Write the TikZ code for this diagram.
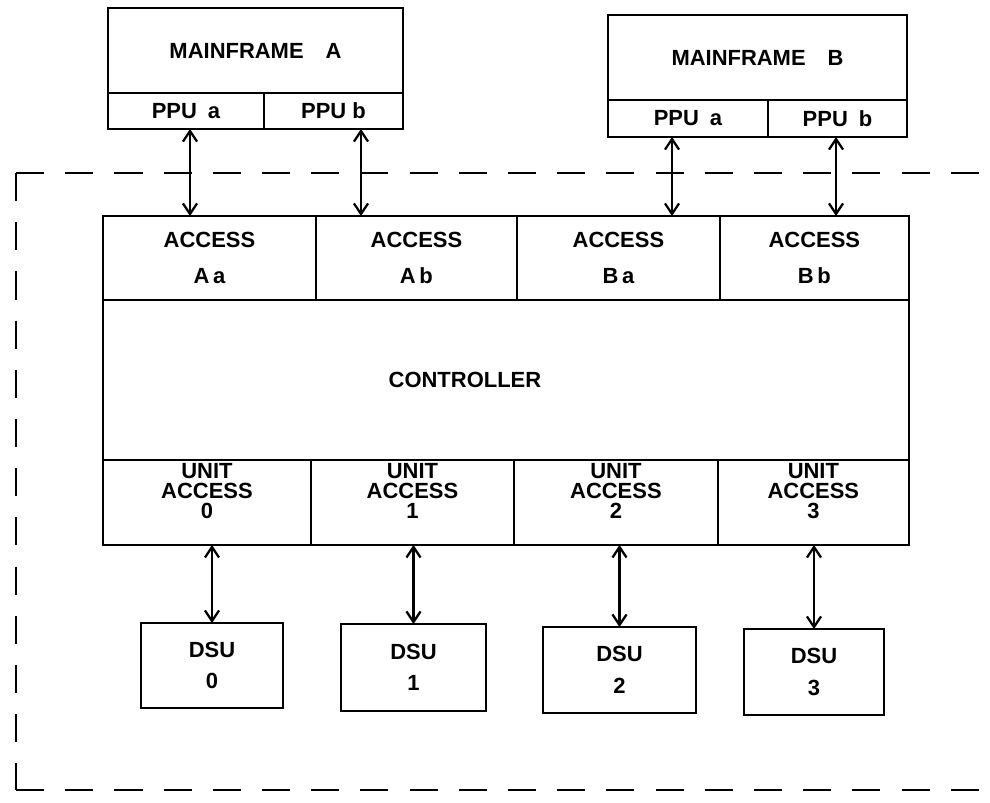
\documentclass[tikz,border=0pt]{standalone}
\usepackage{fontspec}
\setmainfont{Liberation Sans}
\usetikzlibrary{arrows.meta,positioning}

\begin{document}
\begin{tikzpicture}[x=0.02cm, y=-0.02cm,
    box/.style={draw, line width=1.2pt, inner sep=0pt, outer sep=0pt, align=center,
      font=\bfseries\fontsize{12.5}{15}\selectfont},
    accbox/.style={box, minimum height=1.68cm, font=\bfseries\fontsize{12.5}{20}\selectfont},
    unitbox/.style={box, minimum height=1.7cm, text depth=0.46cm, font=\bfseries\fontsize{12.5}{11.5}\selectfont},
    dsubox/.style={box, font=\bfseries\fontsize{12.5}{18}\selectfont},
    link/.style={{Straight Barb[length=6pt,width=8pt]}-{Straight Barb[length=6pt,width=8pt]}, line width=1.3pt},
    frame/.style={line width=1.3pt, dash pattern=on 16pt off 12pt}]
  \useasboundingbox (0,0) rectangle (990,802);

  % mainframes and their PPUs
  \node[box, minimum width=5.9cm, minimum height=1.7cm] (mfA) at (255.5,50.5) {MAINFRAME\quad A};
  \node[box, minimum width=3.12cm, minimum height=0.72cm, anchor=north west] (ppuAa) at (mfA.south west) {PPU\enspace a};
  \node[box, minimum width=2.78cm, minimum height=0.72cm, right=0pt of ppuAa] (ppuAb) {PPU b};

  \node[box, minimum width=5.98cm, minimum height=1.7cm] (mfB) at (757.5,57.5) {MAINFRAME\quad B};
  \node[box, minimum width=3.2cm, minimum height=0.74cm, anchor=north west] (ppuBa) at (mfB.south west) {PPU\enspace a};
  \node[box, minimum width=2.78cm, minimum height=0.74cm, right=0pt of ppuBa] (ppuBb) {PPU\enspace b};

  % access row
  \node[accbox, minimum width=4.26cm, anchor=north west] (accAa) at (103,216) {ACCESS\\A\,a};
  \node[accbox, minimum width=4.02cm, right=0pt of accAa] (accAb) {ACCESS\\A\,b};
  \node[accbox, minimum width=4.06cm, right=0pt of accAb] (accBa) {ACCESS\\B\,a};
  \node[accbox, minimum width=3.78cm, right=0pt of accBa] (accBb) {ACCESS\\B\,b};

  % controller
  \node[box, minimum width=16.12cm, minimum height=3.2cm, anchor=north west,
    label={[xshift=-0.82cm, font=\bfseries\fontsize{12.5}{15}\selectfont]center:CONTROLLER}] (ctrl) at (accAa.south west) {};

  % unit access row
  \node[unitbox, minimum width=4.16cm, anchor=north west] (unit0) at (ctrl.south west) {UNIT\\ACCESS\\0};
  \node[unitbox, minimum width=4.06cm, right=0pt of unit0] (unit1) {UNIT\\ACCESS\\1};
  \node[unitbox, minimum width=4.08cm, right=0pt of unit1] (unit2) {UNIT\\ACCESS\\2};
  \node[unitbox, minimum width=3.82cm, right=0pt of unit2] (unit3) {UNIT\\ACCESS\\3};

  % storage units
  \node[dsubox, minimum width=2.84cm, minimum height=1.7cm] (dsu0) at (212,665.5) {DSU\\0};
  \node[dsubox, minimum width=2.9cm, minimum height=1.74cm] (dsu1) at (413.5,667.5) {DSU\\1};
  \node[dsubox, minimum width=3.06cm, minimum height=1.72cm] (dsu2) at (619.5,670) {DSU\\2};
  \node[dsubox, minimum width=2.8cm, minimum height=1.72cm] (dsu3) at (814,672) {DSU\\3};

  % links
  \coordinate (xAa) at (190,0);
  \coordinate (xAb) at (361,0);
  \coordinate (xBa) at (672,0);
  \coordinate (xBb) at (836,0);
  \draw[link] (ppuAa.south -| xAa) -- (accAa.north -| xAa);
  \draw[link] (ppuAb.south -| xAb) -- (accAb.north -| xAb);
  \draw[link] (ppuBa.south -| xBa) -- (accBa.north -| xBa);
  \draw[link] (ppuBb.south -| xBb) -- (accBb.north -| xBb);
  \draw[link] (unit0.south -| dsu0.north) -- (dsu0.north);
  \draw[link] (unit1.south -| dsu1.north) -- (dsu1.north);
  \draw[link] (unit2.south -| dsu2.north) -- (dsu2.north);
  \draw[link] (unit3.south -| dsu3.north) -- (dsu3.north);

  % dashed frame, open to the right
  \coordinate (fTL) at (16,173);
  \coordinate (fBL) at (16,790);
  \coordinate (fTR) at (990,173);
  \coordinate (fBR) at (990,790);
  \draw[frame] (fTL) -- (fTR);
  \draw[frame] (fTL) -- (fBL);
  \draw[frame] (fBL) -- (fBR);
\end{tikzpicture}
\end{document}
